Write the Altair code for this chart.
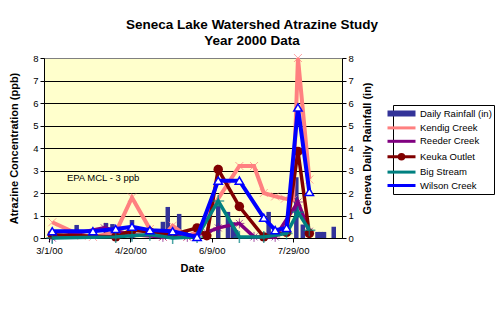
import altair as alt
import pandas as pd

FONT = "Liberation Sans"

series_names = ["Daily Rainfall (in)", "Kendig Creek", "Reeder Creek",
                "Keuka Outlet", "Big Stream", "Wilson Creek"]
series_colors = ["#333399", "#FF8080", "#800080", "#800000", "#008080", "#0000FF"]

rain_dates = ["2000-03-18", "2000-04-05", "2000-04-09", "2000-04-21", "2000-05-10",
              "2000-05-13", "2000-05-20", "2000-05-24", "2000-06-13", "2000-06-19",
              "2000-06-22", "2000-06-24", "2000-07-14", "2000-07-31", "2000-08-04",
              "2000-08-13", "2000-08-15", "2000-08-17", "2000-08-23"]
rain_in = [0.58, 0.67, 0.62, 0.8, 0.72, 1.38, 1.07, 0.36, 1.45, 1.16,
           0.7, 0.35, 1.16, 2.7, 0.6, 0.27, 0.27, 0.27, 0.5]

kendig_dates = ["2000-03-03", "2000-03-21", "2000-03-28", "2000-04-11", "2000-04-21",
                "2000-05-02", "2000-05-10", "2000-05-16", "2000-05-25", "2000-05-31",
                "2000-06-26", "2000-07-05", "2000-07-11", "2000-07-18", "2000-07-24",
                "2000-07-29", "2000-08-01", "2000-08-08"]
kendig_ppb = [0.7, 0.1, 0.05, 0.25, 1.8, 0.4, 0.05, 0.55, 0.05, 0.3,
              3.2, 3.2, 2.0, 1.85, 1.75, 1.7, 8.0, 2.6]

reeder_dates = ["2000-03-03", "2000-04-04", "2000-04-21", "2000-05-10", "2000-05-25",
                "2000-06-06", "2000-06-13", "2000-06-26", "2000-07-05", "2000-07-18",
                "2000-08-01", "2000-08-08"]
reeder_ppb = [0.0, 0.45, 0.15, 0.05, 0.05, 0.25, 0.45, 0.65, 0.05, 0.05, 1.6, 0.3]

keuka_dates = ["2000-03-03", "2000-04-11", "2000-04-21", "2000-05-02", "2000-05-16",
               "2000-05-31", "2000-06-06", "2000-06-13", "2000-06-26", "2000-07-11",
               "2000-07-25", "2000-08-01", "2000-08-08"]
keuka_ppb = [0.15, 0.05, 0.35, 0.27, 0.15, 0.45, 0.1, 3.05, 1.4, 0.05, 0.25, 3.85, 0.2]

big_dates = ["2000-03-03", "2000-04-11", "2000-04-21", "2000-05-02", "2000-05-16",
             "2000-05-31", "2000-06-13", "2000-06-26", "2000-07-11", "2000-07-25",
             "2000-08-01", "2000-08-08"]
big_ppb = [0.0, 0.05, 0.1, 0.15, 0.0, 0.05, 1.65, 0.05, 0.05, 0.2, 1.15, 0.35]

wilson_dates = ["2000-03-03", "2000-03-28", "2000-04-11", "2000-04-21", "2000-05-02",
                "2000-05-16", "2000-05-31", "2000-06-13", "2000-06-26", "2000-07-11",
                "2000-07-18", "2000-07-25", "2000-08-01", "2000-08-08"]
wilson_ppb = [0.3, 0.3, 0.4, 0.5, 0.35, 0.3, 0.05, 2.55, 2.55, 0.9, 0.35, 0.45, 5.8, 2.05]

note_date = ["2000-03-12"]
note_value = [2.68]
note_text = ["EPA MCL - 3 ppb"]

y_ticks = [0, 1, 2, 3, 4, 5, 6, 7, 8]


def utc(m, d):
    return alt.DateTime(year=2000, month=m, date=d, utc=True)


x_scale = alt.Scale(type="utc", domain=[utc(3, 1), utc(8, 25)])
x_axis = alt.Axis(
    title="Date", values=[utc(3, 1), utc(4, 20), utc(6, 9), utc(7, 29)],
    labelExpr="utcFormat(datum.value, '%-m/%-d/%y')",
    grid=False, tickSize=4, tickColor="black", domainColor="black",
    labelFont=FONT, labelFontSize=9.5, labelColor="black", labelPadding=3,
    labelFlush=False, labelOverlap=False,
    titleFont=FONT, titleFontSize=11, titleFontWeight="bold", titleColor="black",
    titleX=148, titleY=30, titleAlign="center", titleBaseline="middle",
)
X = alt.X("date:T", scale=x_scale, axis=x_axis)

axis_common = dict(
    values=y_ticks, tickSize=4, tickColor="black", domainColor="black",
    labelFont=FONT, labelFontSize=9.5, labelColor="black", labelPadding=2,
    titleFont=FONT, titleFontSize=11, titleFontWeight="bold", titleColor="black",
    titleAngle=270, titleAlign="center", titleBaseline="middle", titleY=90,
)
left_axis = alt.Axis(
    title="Atrazine Concentration (ppb)", orient="left", titleX=-30,
    grid=True, gridWidth=1,
    gridColor={"condition": {"test": "datum.value === 8", "value": "#808080"}, "value": "black"},
    **axis_common,
)
right_axis = alt.Axis(
    title="Geneva Daily Rainfall (in)", orient="right", titleX=25, grid=False,
    **axis_common,
)
Y = alt.Y("value:Q", scale=alt.Scale(domain=[0, 8], nice=False), axis=left_axis)

SYM = ("datum.value === 'Daily Rainfall (in)' ? 'M-2.5,-0.3H2.5V0.3H-2.5Z' : "
       "datum.value === 'Keuka Outlet' ? "
       "'M-2.8,0H2.8M-0.45,0A0.45,0.45 0 1,0 0.45,0A0.45,0.45 0 1,0 -0.45,0' : "
       "'M-2.8,0H2.8'")

legend = alt.Legend(
    title=None, orient="none", legendX=349, legendY=47,
    strokeColor="black", fillColor="white", padding=2,
    labelFont=FONT, labelFontSize=9.5, labelColor="black",
    symbolType={"expr": SYM}, symbolSize=100, symbolStrokeWidth=3,
    labelOffset=12, rowPadding=0.4,
)
color = alt.Color("series:N", scale=alt.Scale(domain=series_names, range=series_colors),
                  legend=legend)

rain_df = pd.DataFrame({"date": rain_dates, "rain": rain_in})
bars = alt.Chart(rain_df).mark_bar(size=4.5, color="#333399").encode(
    x=X,
    y=alt.Y("rain:Q", scale=alt.Scale(domain=[0, 8], nice=False), axis=right_axis),
)

series_specs = [
    ("Kendig Creek", kendig_dates, kendig_ppb, 4,
     dict(shape="M-1,-1L1,1M-1,1L1,-1", size=64, filled=False, color="#FF8080", strokeWidth=1)),
    ("Reeder Creek", reeder_dates, reeder_ppb, 3.5,
     dict(shape="M-1,0H1M0,-1V1M-0.7,-0.7L0.7,0.7M-0.7,0.7L0.7,-0.7", size=100,
          filled=False, color="#800080", strokeWidth=1)),
    ("Keuka Outlet", keuka_dates, keuka_ppb, 3.5,
     dict(shape="circle", size=90, filled=True, color="#800000", opacity=1)),
    ("Big Stream", big_dates, big_ppb, 3.5,
     dict(shape="M-1,0H1M0,-1V1", size=144, filled=False, color="#008080", strokeWidth=1.5)),
    ("Wilson Creek", wilson_dates, wilson_ppb, 4,
     dict(shape="triangle-up", size=70, filled=True, fill="white", stroke="#0000FF",
          strokeWidth=1.5, opacity=1)),
]

layers = []
for name, dates, vals, sw, pstyle in series_specs:
    df = pd.DataFrame({"date": dates, "value": vals, "series": name})
    base = alt.Chart(df)
    layers.append(base.mark_line(strokeWidth=sw).encode(x=X, y=Y, color=color))
    layers.append(base.mark_point(**pstyle).encode(x=X, y=Y))

note_df = pd.DataFrame({"date": note_date, "value": note_value, "text": note_text})
layers.append(alt.Chart(note_df).mark_text(
    align="left", baseline="middle", font=FONT, fontSize=9.5, color="black"
).encode(x=X, y=Y, text="text:N"))

inner = alt.layer(*layers)

chart = alt.layer(bars, inner).resolve_scale(y="independent").properties(
    width=298, height=180,
    title=alt.Title(["Seneca Lake Watershed Atrazine Study", "Year 2000 Data"],
                    font=FONT, fontSize=13.5, fontWeight="bold", color="black",
                    anchor="middle", frame="group", dx=59, offset=3, lineHeight=16),
    padding={"left": 44, "top": 58, "right": 162, "bottom": 97},
    autosize=alt.AutoSizeParams(type="none"),
    background="white",
).configure_view(fill="#FFFFCC", stroke="#808080", strokeWidth=1)

chart.save("out.html", embed_options={"renderer": "svg", "actions": False})
